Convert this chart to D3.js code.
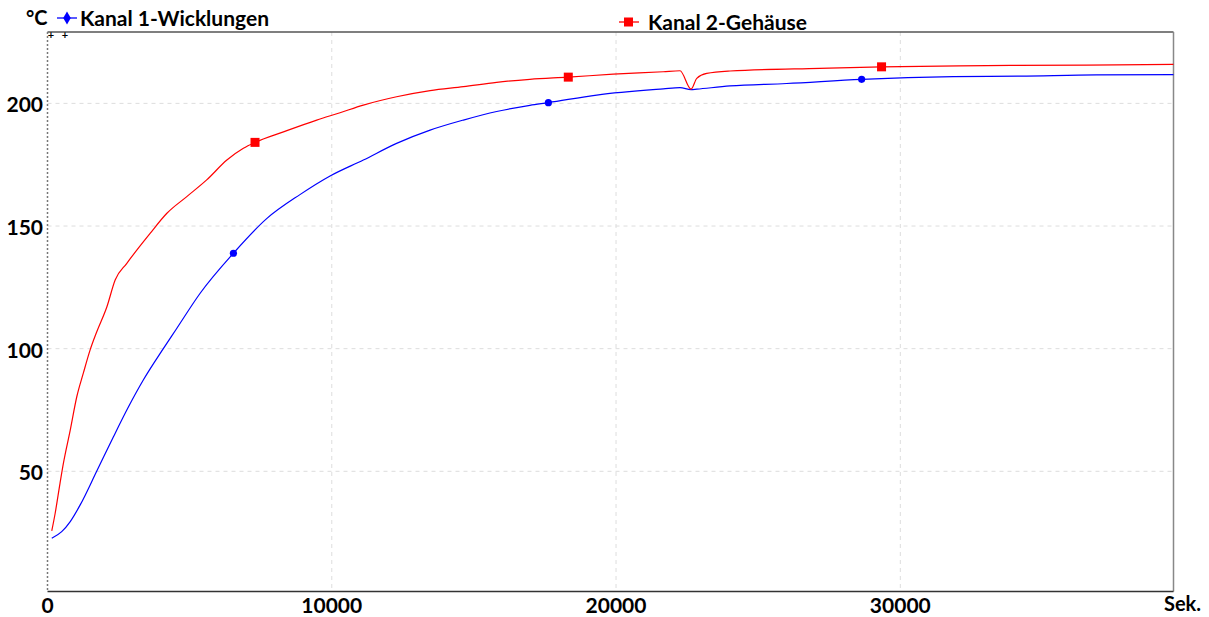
<!DOCTYPE html>
<html lang="de">
<head>
<meta charset="UTF-8">
<title>Kanal 1 / Kanal 2 Temperaturverlauf</title>
<script src="https://d3js.org/d3.v7.min.js"></script>
<style>
  body { margin: 0; background: #fff; }
  text { font-family: Lato, "Open Sans", sans-serif; font-weight: bold; fill: #000; }
  .grid line { stroke: #ddd; stroke-dasharray: 4,4; }
</style>
</head>
<body>
<svg width="1209" height="617"></svg>
<script>
  // time in seconds, temperature in °C
  const blueTime = [150, 500, 800, 1150, 1730, 2320, 2850, 3370, 4080, 4510, 5370, 6540, 7710, 8880,
                    9940, 11110, 12280, 13460, 14630, 15800, 16970, 17620, 19320, 21660, 22250, 22640,
                    22840, 24010, 26000, 28640, 31860, 34210, 36900, 39610];
  const blueTemp = [22.7, 25.4, 29.5, 36.3, 50.0, 64.1, 76.3, 87.2, 100.1, 107.6, 122.6, 138.9, 153.0, 162.8,
                    170.4, 176.9, 183.7, 189.1, 193.2, 196.7, 199.2, 200.3, 203.4, 205.9, 206.4, 205.6,
                    205.8, 207.1, 208.1, 209.8, 210.9, 211.1, 211.6, 211.7];

  const redTime = [150, 270, 440, 560, 800, 1030, 1260, 1500, 1730, 2090, 2380, 2790, 3610, 4200, 4900,
                   5600, 6310, 6890, 7300, 8300, 9470, 10290, 11110, 12280, 13460, 14630, 15800, 16970,
                   18320, 19900, 21660, 22250, 22640, 22840, 23190, 24010, 27170, 29340, 33040, 36550, 39610];
  const redTemp = [25.7, 32.9, 45.1, 53.3, 66.8, 80.4, 90.0, 99.5, 106.8, 117.1, 128.0, 134.8, 147.0, 155.2, 162.0,
                   168.8, 176.9, 181.7, 184.1, 188.4, 193.2, 196.2, 199.3, 202.7, 205.2, 206.8, 208.6, 209.8,
                   210.7, 211.9, 212.9, 213.3, 205.8, 210.2, 212.2, 213.2, 214.3, 214.9, 215.4, 215.6, 215.9];

  const blueMarkers = [6540, 17620, 28640];
  const redMarkers = [7300, 18320, 29340];

  const xTicks = [0, 10000, 20000, 30000];
  const yTicks = [50, 100, 150, 200];

  const seriesNames = ["Kanal 1-Wicklungen", "Kanal 2-Gehäuse"];
  const colors = ["#0000ff", "#ff0000"];

  const svg = d3.select("svg");
  const plot = { left: 47.5, right: 1173.5, top: 32, bottom: 591.5 };

  const x = d3.scaleLinear().domain([0, 39610]).range([plot.left, plot.right]);
  const y = d3.scaleLinear().domain([1, 229.1]).range([plot.bottom, plot.top]);

  // grid
  const grid = svg.append("g").attr("class", "grid");
  grid.selectAll("line.h").data(yTicks).enter().append("line")
      .attr("x1", plot.left).attr("x2", plot.right)
      .attr("y1", d => y(d)).attr("y2", d => y(d));
  grid.selectAll("line.v").data(xTicks.filter(d => d > 0)).enter().append("line")
      .attr("x1", d => x(d)).attr("x2", d => x(d))
      .attr("y1", plot.top).attr("y2", plot.bottom);

  // frame
  svg.append("line").attr("x1", plot.left).attr("x2", plot.right).attr("y1", plot.top).attr("y2", plot.top)
      .attr("stroke", "#555").attr("stroke-width", 1.3);
  svg.append("line").attr("x1", plot.right).attr("x2", plot.right).attr("y1", plot.top).attr("y2", plot.bottom)
      .attr("stroke", "#888").attr("stroke-width", 1.5);
  svg.append("line").attr("x1", plot.left).attr("x2", plot.right).attr("y1", plot.bottom).attr("y2", plot.bottom)
      .attr("stroke", "#333").attr("stroke-width", 1.3);
  svg.append("line").attr("x1", plot.left).attr("x2", plot.left).attr("y1", plot.top).attr("y2", plot.bottom)
      .attr("stroke", "#777").attr("stroke-width", 1.5).attr("stroke-dasharray", "2,2");

  // tick labels
  svg.append("g").selectAll("text").data(xTicks).enter().append("text")
      .attr("x", d => x(d)).attr("y", 613)
      .attr("text-anchor", "middle").attr("font-size", 21)
      .text(d => d);
  svg.append("g").selectAll("text").data(yTicks).enter().append("text")
      .attr("x", 43).attr("y", d => y(d) + 9)
      .attr("text-anchor", "end").attr("font-size", 21)
      .text(d => d);

  svg.append("text").attr("x", 1201).attr("y", 611).attr("text-anchor", "end")
      .attr("font-size", 20).text("Sek.");
  svg.append("text").attr("x", 26).attr("y", 25).attr("font-size", 20).text("°C");

  // small cursor marks
  svg.append("g").selectAll("text").data([51, 65]).enter().append("text")
      .attr("x", d => d).attr("y", 39).attr("text-anchor", "middle")
      .attr("font-size", 11).attr("font-weight", "normal").text("+");

  // lines
  const line = d3.line().curve(d3.curveMonotoneX).x(d => x(d[0])).y(d => y(d[1]));
  const blueData = d3.zip(blueTime, blueTemp);
  const redData = d3.zip(redTime, redTemp);

  svg.append("path").datum(blueData).attr("d", line)
      .attr("fill", "none").attr("stroke", colors[0]).attr("stroke-width", 1.2);
  svg.append("path").datum(redData).attr("d", line)
      .attr("fill", "none").attr("stroke", colors[1]).attr("stroke-width", 1.2);

  const interp = (ts, vs, t) => {
    const i = d3.bisectLeft(ts, t);
    if (ts[i] === t) return vs[i];
    const f = (t - ts[i - 1]) / (ts[i] - ts[i - 1]);
    return vs[i - 1] + f * (vs[i] - vs[i - 1]);
  };

  svg.append("g").selectAll("circle").data(blueMarkers).enter().append("circle")
      .attr("cx", d => x(d)).attr("cy", d => y(interp(blueTime, blueTemp, d)))
      .attr("r", 3.6).attr("fill", colors[0]);
  svg.append("g").selectAll("rect").data(redMarkers).enter().append("rect")
      .attr("x", d => x(d) - 4.5).attr("y", d => y(interp(redTime, redTemp, d)) - 4.5)
      .attr("width", 9).attr("height", 9).attr("fill", colors[1]);

  // legend
  const legend = [
    { lx: 57, ly: 18, tx: 80, ty: 26 },
    { lx: 619, ly: 22, tx: 648, ty: 30 }
  ];
  legend.forEach((p, i) => {
    svg.append("line").attr("x1", p.lx).attr("x2", p.lx + 20).attr("y1", p.ly).attr("y2", p.ly)
        .attr("stroke", colors[i]).attr("stroke-width", 1.3);
    if (i === 0) {
      svg.append("path").attr("d", d3.symbol(d3.symbolDiamond, 50)())
          .attr("transform", `translate(${p.lx + 10},${p.ly})`).attr("fill", colors[i]);
    } else {
      svg.append("rect").attr("x", p.lx + 5).attr("y", p.ly - 4.5).attr("width", 9).attr("height", 9)
          .attr("fill", colors[i]);
    }
    svg.append("text").attr("x", p.tx).attr("y", p.ty).attr("font-size", 21).text(seriesNames[i]);
  });
</script>
</body>
</html>
